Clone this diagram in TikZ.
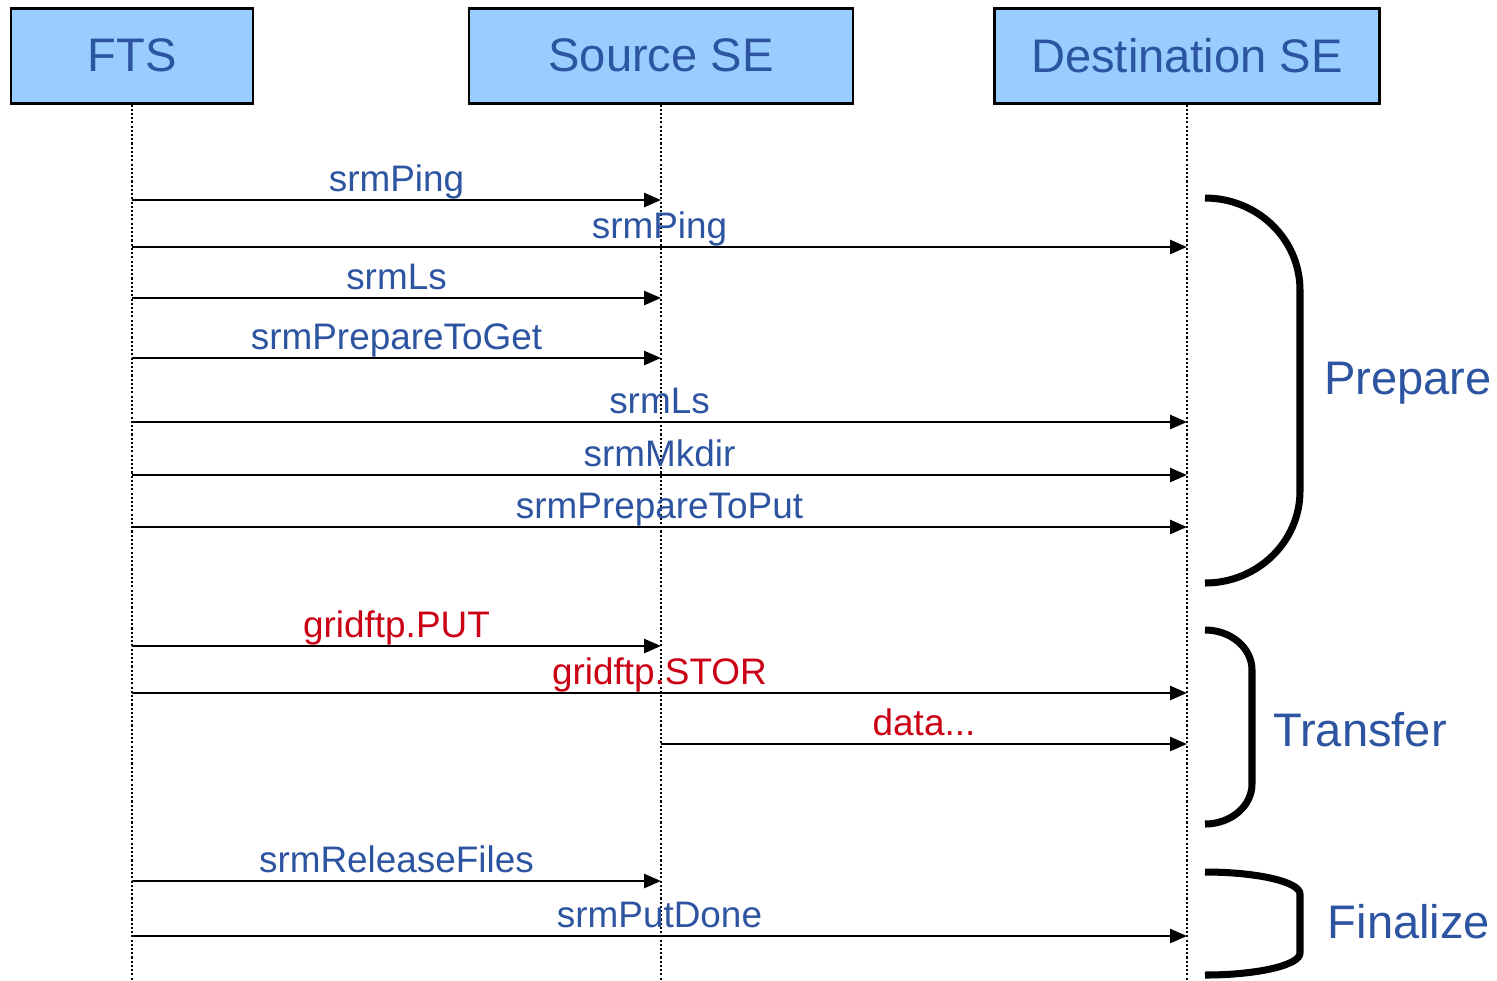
\documentclass[tikz,border=0pt]{standalone}
\usepackage{fontspec}
\setmainfont{Liberation Sans}
\usetikzlibrary{arrows.meta}

\definecolor{boxblue}{RGB}{153,204,255}
\definecolor{textblue}{RGB}{44,84,160}
\definecolor{textred}{RGB}{204,0,20}

\tikzset{
  actor/.style={draw=black, line width=0.85pt, fill=boxblue, minimum height=0.95cm,
    inner sep=0pt, text=textblue, font=\fontsize{13.4}{16}\selectfont},
  lifeline/.style={line width=0.7pt, dash pattern=on 0.6pt off 0.6pt},
  msg/.style={line width=0.75pt, -{Triangle[length=0.17cm,width=0.14cm]}},
  lbl/.style={above, inner sep=0pt, text depth=0.2em, text=textblue,
    font=\fontsize{10.5}{12}\selectfont},
  redlbl/.style={lbl, text=textred},
  brace/.style={line width=2pt},
  phase/.style={text=textblue, font=\fontsize{13.4}{16}\selectfont}
}

\begin{document}
\begin{tikzpicture}
    \useasboundingbox (0,0) rectangle (14.97,-9.80);

    % Header boxes
    \node[actor, minimum width=2.42cm] (fts) at (1.32,-0.555) {FTS};
    \node[actor, minimum width=3.84cm] (src) at (6.61,-0.555) {Source SE};
    \node[actor, minimum width=3.85cm] (dst) at (11.87,-0.555) {Destination SE};

    % Lifelines
    \coordinate (fts-end) at (fts |- 0,-9.80);
    \coordinate (src-end) at (src |- 0,-9.80);
    \coordinate (dst-end) at (dst |- 0,-9.80);
    \draw[lifeline] (fts) -- (fts-end);
    \draw[lifeline] (src) -- (src-end);
    \draw[lifeline] (dst) -- (dst-end);

    % Prepare messages
    \draw[msg] (fts |- 0,-2.00) -- node[lbl] {srmPing} (src |- 0,-2.00);
    \draw[msg] (fts |- 0,-2.47) -- node[lbl] {srmPing} (dst |- 0,-2.47);
    \draw[msg] (fts |- 0,-2.98) -- node[lbl] {srmLs} (src |- 0,-2.98);
    \draw[msg] (fts |- 0,-3.58) -- node[lbl] {srmPrepareToGet} (src |- 0,-3.58);
    \draw[msg] (fts |- 0,-4.22) -- node[lbl] {srmLs} (dst |- 0,-4.22);
    \draw[msg] (fts |- 0,-4.75) -- node[lbl] {srmMkdir} (dst |- 0,-4.75);
    \draw[msg] (fts |- 0,-5.27) -- node[lbl] {srmPrepareToPut} (dst |- 0,-5.27);

    % Transfer messages
    \draw[msg] (fts |- 0,-6.46) -- node[redlbl] {gridftp.PUT} (src |- 0,-6.46);
    \draw[msg] (fts |- 0,-6.93) -- node[redlbl] {gridftp.STOR} (dst |- 0,-6.93);
    \draw[msg] (src |- 0,-7.44) -- node[redlbl] {data...} (dst |- 0,-7.44);

    % Finalize messages
    \draw[msg] (fts |- 0,-8.81) -- node[lbl] {srmReleaseFiles} (src |- 0,-8.81);
    \draw[msg] (fts |- 0,-9.36) -- node[lbl] {srmPutDone} (dst |- 0,-9.36);

    % Braces for the phases
    \draw[brace] (12.05,-1.98) arc[start angle=90, end angle=0, x radius=0.95, y radius=0.92]
        -- (13.00,-4.91) arc[start angle=0, end angle=-90, x radius=0.95, y radius=0.92];
    \draw[brace] (12.05,-6.30) arc[start angle=90, end angle=0, x radius=0.47, y radius=0.40]
        -- (12.52,-7.84) arc[start angle=0, end angle=-90, x radius=0.47, y radius=0.40];
    \draw[brace] (12.05,-8.72) arc[start angle=90, end angle=0, x radius=0.95, y radius=0.22]
        -- (13.00,-9.53) arc[start angle=0, end angle=-90, x radius=0.95, y radius=0.22];

    % Phase labels
    \node[phase] (prepare) at (14.08,-3.83) {Prepare};
    \node[phase] (transfer) at (13.60,-7.30) {Transfer};
    \node[phase] (finalize) at (14.09,-9.22) {Finalize};
\end{tikzpicture}
\end{document}
